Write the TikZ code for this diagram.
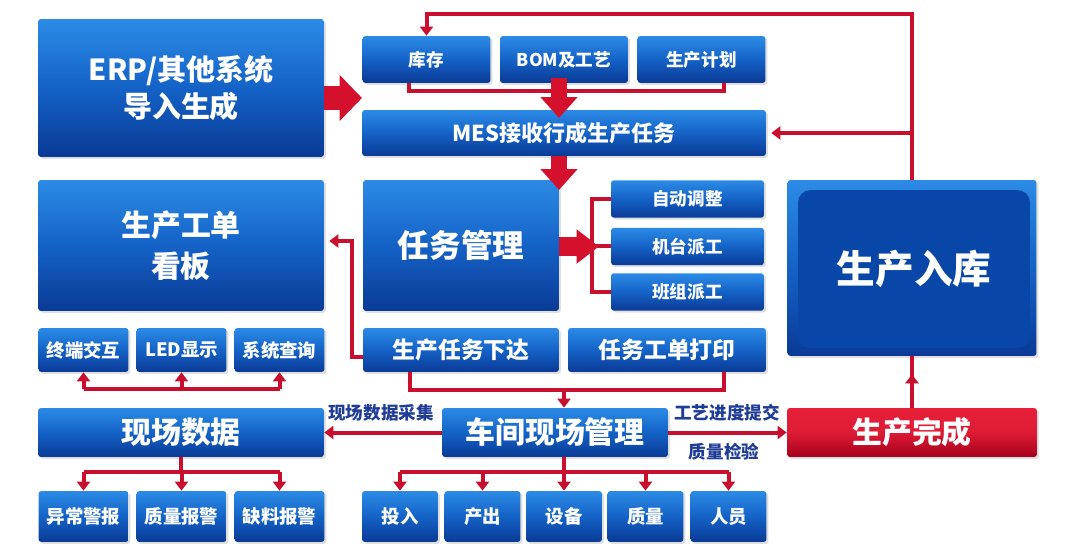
\documentclass[tikz,border=0pt]{standalone}
\usepackage{fontspec}
\setmainfont{Noto Sans CJK SC}
\usetikzlibrary{arrows.meta,decorations.markings,shadows}

\definecolor{boxtop}{HTML}{2C8BE6}
\definecolor{boxmid}{HTML}{1462C6}
\definecolor{boxbot}{HTML}{0A3A96}
\definecolor{storeblue}{HTML}{0847A8}
\definecolor{linered}{HTML}{C8102E}
\definecolor{fatred}{HTML}{D5102D}
\definecolor{donetop}{HTML}{E8203A}
\definecolor{donebot}{HTML}{A5001A}
\definecolor{labelblue}{HTML}{1F3C96}

\tikzset{
  fs/.style={font=\fontsize{#1pt}{#1pt}\selectfont\bfseries},
  blk/.style={rounded corners=0.06cm, top color=boxtop, bottom color=boxbot,
    middle color=boxmid, text=white, align=center, inner sep=0pt,
    drop shadow={opacity=0.25, shadow xshift=0.04cm, shadow yshift=-0.04cm}},
  doneblk/.style={blk, top color=donetop, bottom color=donebot, middle color=donetop!85!donebot},
  storein/.style={rounded corners=0.25cm, fill=storeblue, text=white, inner sep=0pt},
  rline/.style={draw=linered, line width=0.08cm},
  rarr/.style={rline, -{Triangle[width=0.26cm,length=0.18cm]}},
  fath/.style={draw=fatred, line width=0.48cm, -{Triangle[width=0.9cm,length=0.45cm]}},
  fatv/.style={draw=fatred, line width=0.32cm, -{Triangle[width=0.72cm,length=0.42cm]}},
  lbl/.style={text=labelblue, fs=10, inner sep=1pt},
  midup/.style={postaction={decorate}, decoration={markings,
    mark=at position 0.65 with {\arrow{Triangle[width=0.26cm,length=0.18cm]}}}}
}

\begin{document}
\begin{tikzpicture}[x=0.02cm, y=-0.02cm]
  % canvas
  \useasboundingbox[fill=white] (0,0) rectangle (1079,547);

  % left column
  \node[blk, fs=16.5, minimum width=5.72cm, minimum height=2.76cm] (erp) at (181,88) {ERP/其他系统\\[3pt]导入生成};
  \node[blk, fs=17, minimum width=5.72cm, minimum height=2.62cm] (kanban) at (181,245.5) {生产工单\\[6pt]看板};
  \node[blk, fs=17, minimum width=5.72cm, minimum height=0.98cm] (field) at (181,432.5) {现场数据};

  % small boxes under the board
  \foreach \n/\x/\txt in {1/83.5/终端交互, 2/181.5/LED显示, 3/279.5/系统查询}{
      \node[blk, fs=10.5, minimum width=1.8cm, minimum height=0.88cm] (term\n) at (\x,350) {\txt};
    }

  % alarms
  \foreach \n/\x/\txt in {1/83.5/异常警报, 2/181.5/质量报警, 3/279.5/缺料报警}{
      \node[blk, fs=10.5, minimum width=1.8cm, minimum height=1.02cm] (alarm\n) at (\x,516.5) {\txt};
    }

  % top row
  \foreach \name/\x/\txt in {kucun/426.5/库存, bom/564/BOM及工艺, plan/701.5/生产计划}{
      \node[blk, fs=10, minimum width=2.56cm, minimum height=0.94cm] (\name) at (\x,59.5) {\txt};
    }
  \node[blk, fs=12.5, minimum width=8.08cm, minimum height=0.92cm] (mes) at (564,133) {MES接收行成生产任务};

  % task management
  \node[blk, fs=18, minimum width=3.92cm, minimum height=2.62cm] (task) at (461,245.5) {任务管理};
  \foreach \name/\y/\txt in {auto/199/自动调整, mach/246.5/机台派工, team/292/班组派工}{
      \node[blk, fs=10, minimum width=3.06cm, minimum height=0.75cm] (\name) at (687.5,\y) {\txt};
    }
  \node[blk, fs=13, minimum width=3.92cm, minimum height=0.88cm] (issue) at (461,350) {生产任务下达};
  \node[blk, fs=13, minimum width=3.96cm, minimum height=0.88cm] (print) at (667,350) {任务工单打印};

  % shop floor
  \node[blk, fs=17, minimum width=4.52cm, minimum height=0.98cm] (shop) at (555,432.5) {车间现场管理};
  \foreach \n/\x/\txt in {1/400/投入, 2/482.5/产出, 3/564/设备, 4/645.5/质量, 5/728.5/人员}{
      \node[blk, fs=10.5, minimum width=1.52cm, minimum height=1.02cm] (item\n) at (\x,516.5) {\txt};
    }

  % right column
  \node[blk, minimum width=4.98cm, minimum height=3.52cm] (storebg) at (912,268) {};
  \node[storein, fs=22, minimum width=4.64cm, minimum height=3.16cm] (store) at (914,269) {生产入库};
  \node[doneblk, fs=17, minimum width=5.0cm, minimum height=0.98cm] (done) at (912,432.5) {生产完成};

  % return loop to the top
  \draw[rarr] (storebg.north) -- (storebg.north |- 0,14) -| (kucun.north);
  \draw[rarr, shorten >=0.1cm] (storebg.north |- mes.east) -- (mes.east);

  % bus under the top row
  \draw[rline] ([xshift=-0.35cm]kucun.south) |- (0,91 -| plan.south) -- ([xshift=0.45cm]plan.south |- 0,91) -- ([xshift=0.45cm]plan.south);

  % fat arrows
  \coordinate (erpin) at (362,98);
  \coordinate (mesin) at (559,118);
  \coordinate (taskin) at (559,190);
  \coordinate (brk) at (592,246.5);
  \draw[fath] (erp.east |- erpin) -- (erpin);
  \draw[fatv] (559,78) -- (mesin);
  \draw[fatv] (mes.south -| mesin) -- (taskin);

  % bracket to the dispatch boxes
  \draw[rline] (auto.west) -| (brk |- team.west) -- (team.west);
  \draw[rline] (brk) -- (mach.west);
  \draw[draw=fatred, line width=0.38cm, -{Triangle[width=0.66cm,length=0.45cm]}] (task.east |- brk) -- ([xshift=0.14cm]brk);

  % issue back to the board
  \coordinate (kb) at (352,241);
  \draw[rarr, shorten >=0.1cm] ([yshift=-0.14cm]issue.west) -| (kb) -- (kanban.east |- kb);

  % bus under the middle row
  \coordinate (bus2) at (564,390);
  \draw[rline] ([xshift=-1.02cm]issue.south) -- ([xshift=-1.02cm]issue.south |- bus2) -- ([xshift=1.14cm]print.south |- bus2) -- ([xshift=1.14cm]print.south);
  \draw[rarr] (bus2) -- (bus2 |- shop.north);

  % up arrows to the terminals
  \coordinate (upbus) at (0,389);
  \draw[rline] (term1 |- upbus) -- (term3 |- upbus);
  \foreach \n in {1,2,3}{
      \draw[rarr] (term\n |- upbus) -- (term\n.south);
    }

  % field data down to the alarms
  \coordinate (dnbus) at (0,472);
  \draw[rline] (field.south) -- (field.south |- dnbus);
  \draw[rline] (alarm1 |- dnbus) -- (alarm3 |- dnbus);
  \foreach \n in {1,2,3}{
      \draw[rarr] (alarm\n |- dnbus) -- (alarm\n.north);
    }

  % shop floor down to its items
  \draw[rline] (shop.south -| bus2) -- (bus2 |- dnbus);
  \draw[rline] (item1 |- dnbus) -- (item5 |- dnbus);
  \foreach \n in {1,...,5}{
      \draw[rarr] (item\n |- dnbus) -- (item\n.north);
    }

  % shop floor sideways
  \draw[rarr] (shop.west) -- (field.east);
  \node[lbl] (collect) at (381,413) {现场数据采集};
  \draw[rarr] (shop.east) -- (done.west);
  \node[lbl] (submit) at (727,413) {工艺进度提交};
  \node[lbl] (check) at (724,452) {质量检验};

  % done up to the store
  \draw[rline, midup] (done.north) -- (storebg.south);
\end{tikzpicture}
\end{document}
